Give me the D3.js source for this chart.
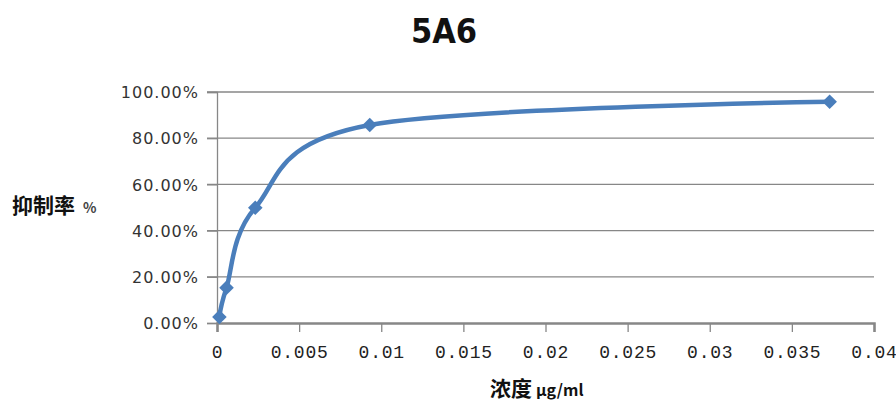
<!DOCTYPE html>
<html><head><meta charset="utf-8">
<script src="https://cdn.jsdelivr.net/npm/d3@7"></script>
<style>body{margin:0;background:#fff}svg{display:block}</style>
</head><body>
<svg id="c" width="896" height="401"></svg>
<script>
const concentrations = [0.000146, 0.00058, 0.00233, 0.0093, 0.0373];
const inhibition = [0.026, 0.153, 0.499, 0.857, 0.958];
const xTicks = [0, 0.005, 0.01, 0.015, 0.02, 0.025, 0.03, 0.035, 0.04];
const xTickLabels = ["0", "0.005", "0.01", "0.015", "0.02", "0.025", "0.03", "0.035", "0.04"];
const yTicks = [0, 0.2, 0.4, 0.6, 0.8, 1.0];
const yTickLabels = ["0.00%", "20.00%", "40.00%", "60.00%", "80.00%", "100.00%"];
const title = "5A6";

const svg = d3.select("#c");
const x = d3.scaleLinear().domain([0, 0.04]).range([217, 874]);
const y = d3.scaleLinear().domain([0, 1]).range([323, 92]);
const blue = "#4a7ebb";

// gridlines
svg.append("g").selectAll("line").data(yTicks.slice(1)).join("line")
  .attr("x1", 207).attr("x2", 874)
  .attr("y1", d => y(d)).attr("y2", d => y(d))
  .attr("stroke", "#878787").attr("stroke-width", 1.3);

// y axis
const yAxis = d3.axisLeft(y).tickValues(yTicks).tickSize(10).tickFormat((d, i) => yTickLabels[i]);
const gy = svg.append("g").attr("transform", `translate(${x(0)},0)`).call(yAxis);
gy.select(".domain").attr("stroke", "#878787").attr("stroke-width", 1.3);
gy.selectAll(".tick line").attr("stroke", "#878787").attr("stroke-width", 1.3);
gy.selectAll(".tick text").attr("x", -18).attr("dy", "0.36em").attr("font-family", "DejaVu Sans").attr("font-size", 16)
  .attr("letter-spacing", 1).attr("fill", "#333");

// x axis
const xAxis = d3.axisBottom(x).tickValues(xTicks).tickSize(9).tickFormat((d, i) => xTickLabels[i]);
const gx = svg.append("g").attr("transform", `translate(0,${y(0)})`).call(xAxis);
gx.select(".domain").attr("stroke", "#878787").attr("stroke-width", 2.5);
gx.selectAll(".tick line").attr("stroke", "#878787").attr("stroke-width", 1.3);
gx.selectAll(".tick text").attr("y", 22).attr("font-family", "Liberation Mono").attr("font-size", 18)
  .attr("letter-spacing", 0.8).attr("fill", "#222");

// line
const pts = concentrations.map((c, i) => [c, inhibition[i]]);
svg.append("path").datum(pts)
  .attr("d", d3.line().x(d => x(d[0])).y(d => y(d[1])).curve(d3.curveCardinal.tension(0)))
  .attr("fill", "none").attr("stroke", blue).attr("stroke-width", 4.5).attr("stroke-linejoin", "round");

// markers
svg.append("g").selectAll("path").data(pts).join("path")
  .attr("d", d3.symbol(d3.symbolDiamond2, 135))
  .attr("transform", d => `translate(${x(d[0])},${y(d[1])})`)
  .attr("fill", blue);

// title
svg.append("text").attr("x", 444).attr("y", 43).attr("text-anchor", "middle")
  .attr("font-family", "DejaVu Sans Condensed, DejaVu Sans").attr("font-weight", "bold")
  .attr("font-size", 34).attr("fill", "#111").text(title);

// y title
const yt = svg.append("text").attr("x", 12).attr("y", 213)
  .attr("font-family", "Noto Sans CJK SC").attr("font-weight", "bold").attr("fill", "#111");
yt.append("tspan").attr("font-size", 21).text("抑制率");
yt.append("tspan").attr("font-size", 14).attr("dx", 8).attr("fill", "#444").text("%");

// x title
const xt = svg.append("text").attr("x", 490).attr("y", 396)
  .attr("font-family", "Noto Sans CJK SC").attr("font-weight", "bold").attr("fill", "#111");
xt.append("tspan").attr("font-size", 21).text("浓度");
xt.append("tspan").attr("font-size", 16).attr("dx", 4).text("μg/ml");
</script>
</body></html>
